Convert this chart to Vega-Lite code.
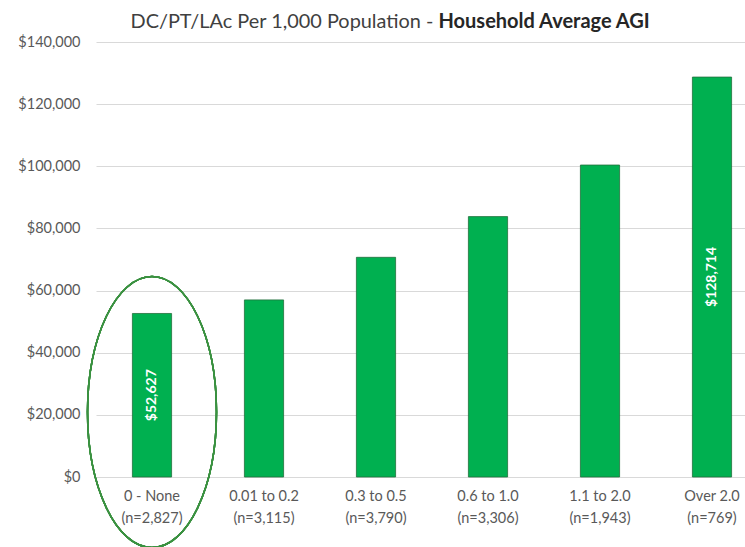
{
  "$schema": "https://vega.github.io/schema/vega-lite/v6.json",
  "width": 672,
  "height": 435,
  "autosize": {"type": "none"},
  "padding": {"left": 96, "top": 42, "right": 0, "bottom": 70},
  "background": "white",
  "config": {"font": "Lato", "view": {"stroke": null}},
  "data": {
    "values": [
      {"label": "0 - None (n=2,827)", "agi": 52627},
      {"label": "0.01 to 0.2 (n=3,115)", "agi": 57000},
      {"label": "0.3 to 0.5 (n=3,790)", "agi": 70700},
      {"label": "0.6 to 1.0 (n=3,306)", "agi": 83800},
      {"label": "1.1 to 2.0 (n=1,943)", "agi": 100400},
      {"label": "Over 2.0 (n=769)", "agi": 128714}
    ]
  },
  "encoding": {
    "x": {
      "field": "label",
      "type": "nominal",
      "sort": null,
      "scale": {"paddingInner": 0.65, "paddingOuter": 0.325},
      "axis": {
        "title": "Household Average AGI",
        "titleFont": "Lato",
        "titleFontSize": 20,
        "titleFontWeight": "bold",
        "titleColor": "#262626",
        "titleX": 342,
        "titleY": -450,
        "titleAlign": "left",
        "titleBaseline": "alphabetic",
        "labelAngle": 0,
        "labelExpr": "[slice(datum.label, 0, indexof(datum.label, ' (')), slice(datum.label, indexof(datum.label, ' (') + 1)]",
        "labelFontSize": 14.5,
        "labelColor": "#595959",
        "labelLineHeight": 22,
        "labelPadding": 12,
        "labelOverlap": false,
        "labelBound": false,
        "ticks": false,
        "domain": false
      }
    }
  },
  "layer": [
    {
      "mark": {"type": "bar", "fill": "#00B050", "stroke": "#22703c", "strokeWidth": 0.8},
      "encoding": {
        "y": {
          "field": "agi",
          "type": "quantitative",
          "scale": {"domain": [0, 140000], "nice": false},
          "axis": {
            "title": "DC/PT/LAc Per 1,000 Population -",
            "titleFont": "Lato",
            "titleFontSize": 19.9,
            "titleFontWeight": "normal",
            "titleColor": "#404040",
            "titleAngle": 0,
            "titleX": 34,
            "titleY": -15,
            "titleAlign": "left",
            "titleBaseline": "alphabetic",
            "format": "$,.0f",
            "values": [0, 20000, 40000, 60000, 80000, 100000, 120000, 140000],
            "labelFontSize": 14.5,
            "labelColor": "#595959",
            "labelPadding": 16,
            "ticks": false,
            "domain": false,
            "gridColor": "#d9d9d9",
            "gridWidth": 1
          }
        }
      }
    },
    {
      "transform": [
        {"filter": "datum.agi == 52627 || datum.agi == 128714"},
        {"calculate": "datum.agi / 2", "as": "mid"}
      ],
      "mark": {"type": "text", "angle": 270, "align": "center", "baseline": "middle", "color": "white", "fontWeight": "bold", "fontSize": 14, "font": "Lato"},
      "encoding": {
        "y": {"field": "mid", "type": "quantitative"},
        "text": {"field": "agi", "type": "quantitative", "format": "$,.0f"}
      }
    },
    {
      "mark": {
        "type": "point",
        "shape": "M -0.476 0 A 0.476 1 0 1 0 0.476 0 A 0.476 1 0 1 0 -0.476 0 Z",
        "filled": false,
        "stroke": "#3a9140",
        "strokeWidth": 1.5,
        "opacity": 1,
        "size": 73441
      },
      "encoding": {
        "x": {"datum": "0 - None (n=2,827)"},
        "y": {"datum": 20900}
      }
    }
  ]
}
